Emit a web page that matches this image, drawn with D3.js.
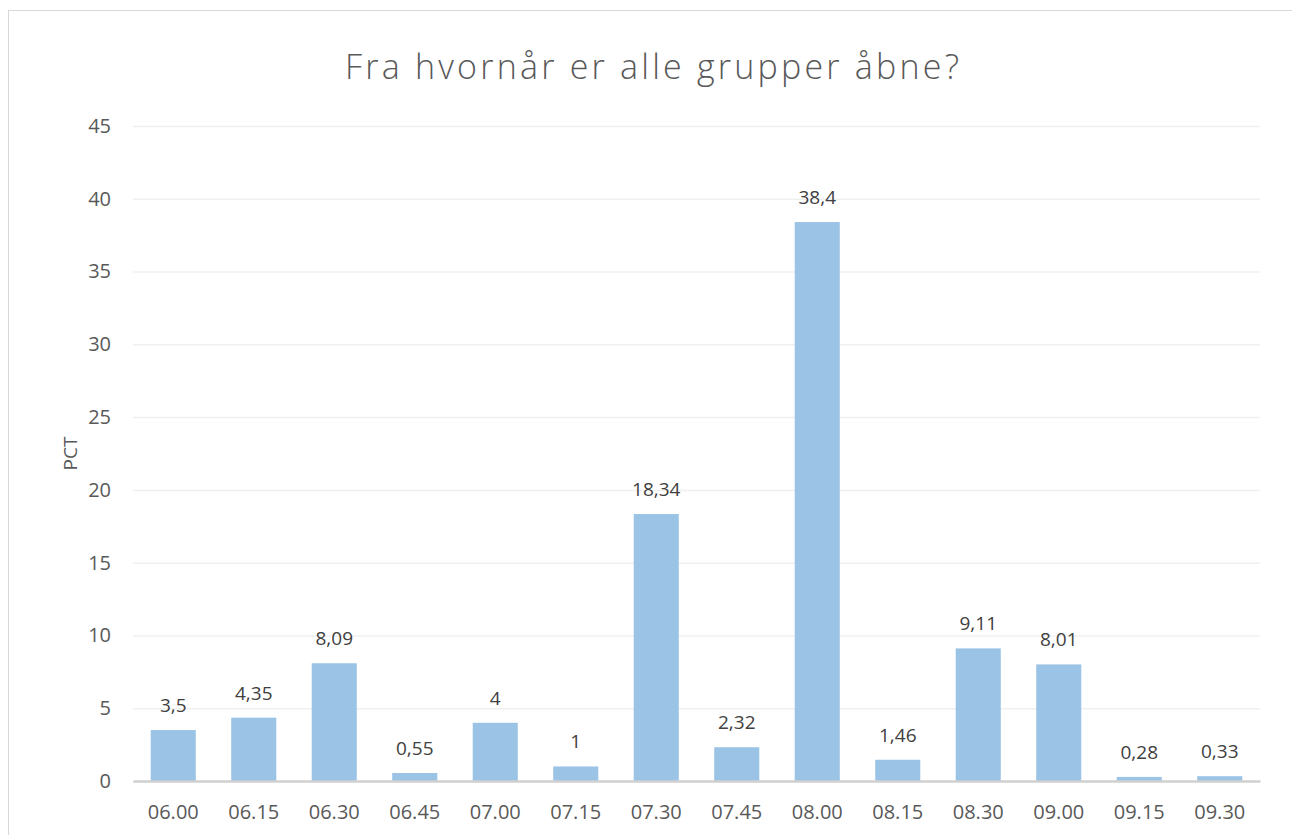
<!DOCTYPE html>
<html>
<head>
<meta charset="utf-8">
<script src="https://cdn.jsdelivr.net/npm/d3@7"></script>
<style>
  body { margin: 0; background: #fff; }
  svg { display: block; }
</style>
</head>
<body>
<svg id="chart" width="1292" height="835"></svg>
<script>
// data
const categories = ["06.00", "06.15", "06.30", "06.45", "07.00", "07.15", "07.30", "07.45", "08.00", "08.15", "08.30", "09.00", "09.15", "09.30"];
const values = [3.5, 4.35, 8.09, 0.55, 4, 1, 18.34, 2.32, 38.4, 1.46, 9.11, 8.01, 0.28, 0.33];
const yTicks = [0, 5, 10, 15, 20, 25, 30, 35, 40, 45];

const svg = d3.select("#chart");

// plot area
const margin = { top: 126, right: 32, bottom: 54, left: 133 };
const W = 1292, H = 835;
const width = W - margin.left - margin.right;
const height = H - margin.top - margin.bottom;

// outer chart frame (runs off the right and bottom edges)
svg.append("rect")
    .attr("x", 8.5)
    .attr("y", 10.5)
    .attr("width", 1300)
    .attr("height", 900)
    .style("fill", "#fff")
    .style("stroke", "#d9d9d9")
    .style("stroke-width", 1);

const g = svg.append("g")
    .attr("transform", `translate(${margin.left},${margin.top})`);

const x = d3.scaleBand()
    .domain(categories)
    .range([0, width])
    .paddingInner(0.44)
    .paddingOuter(0.22);

const y = d3.scaleLinear()
    .domain([0, 45])
    .range([height, 0]);

// gridlines
g.append("g")
    .attr("class", "grid-y")
    .call(d3.axisLeft(y).tickValues(yTicks).tickSize(-width).tickFormat(""))
    .call(s => s.select(".domain").remove())
    .selectAll("line")
    .style("stroke", "#f0f0f0")
    .style("stroke-width", 1.5);

// y tick labels
g.append("g")
    .attr("class", "y-axis")
    .call(d3.axisLeft(y).tickValues(yTicks).tickSize(0).tickPadding(22))
    .call(s => s.select(".domain").remove())
    .selectAll("text")
    .style("font-family", "'Open Sans', sans-serif")
    .style("font-size", "20px")
    .style("fill", "#595959");

// bars
g.selectAll(".bar")
    .data(values)
    .enter()
    .append("rect")
    .attr("class", "bar")
    .attr("x", (d, i) => x(categories[i]))
    .attr("y", d => y(d))
    .attr("width", x.bandwidth())
    .attr("height", d => height - y(d))
    .style("fill", "#9bc3e6");

// baseline axis
g.append("g")
    .attr("class", "x-axis")
    .attr("transform", `translate(0,${height})`)
    .call(d3.axisBottom(x).tickSize(0).tickPadding(24))
    .call(s => s.select(".domain")
        .style("stroke", "#d0d0d0")
        .style("stroke-width", 2.5))
    .selectAll("text")
    .style("font-family", "'Open Sans', sans-serif")
    .style("font-size", "20px")
    .style("fill", "#595959");

// data labels
g.selectAll(".label")
    .data(values)
    .enter()
    .append("text")
    .attr("class", "label")
    .attr("x", (d, i) => x(categories[i]) + x.bandwidth() / 2)
    .attr("y", d => y(d) - 18)
    .attr("text-anchor", "middle")
    .style("font-family", "'Open Sans', sans-serif")
    .style("font-size", "19px")
    .style("fill", "#404040")
    .text(d => String(d).replace(".", ","));

// y axis title
g.append("text")
    .attr("transform", "rotate(-90)")
    .attr("x", -height / 2)
    .attr("y", -margin.left + 77)
    .attr("text-anchor", "middle")
    .style("font-family", "'Open Sans', sans-serif")
    .style("font-size", "19px")
    .style("fill", "#595959")
    .text("PCT");

// chart title
svg.append("text")
    .attr("x", 652)
    .attr("y", 79)
    .attr("text-anchor", "middle")
    .attr("textLength", 614)
    .attr("lengthAdjust", "spacing")
    .style("font-family", "'Open Sans', sans-serif")
    .style("font-weight", 300)
    .style("font-size", "34px")
    .style("fill", "#595959")
    .text("Fra hvornår er alle grupper åbne?");
</script>
</body>
</html>
